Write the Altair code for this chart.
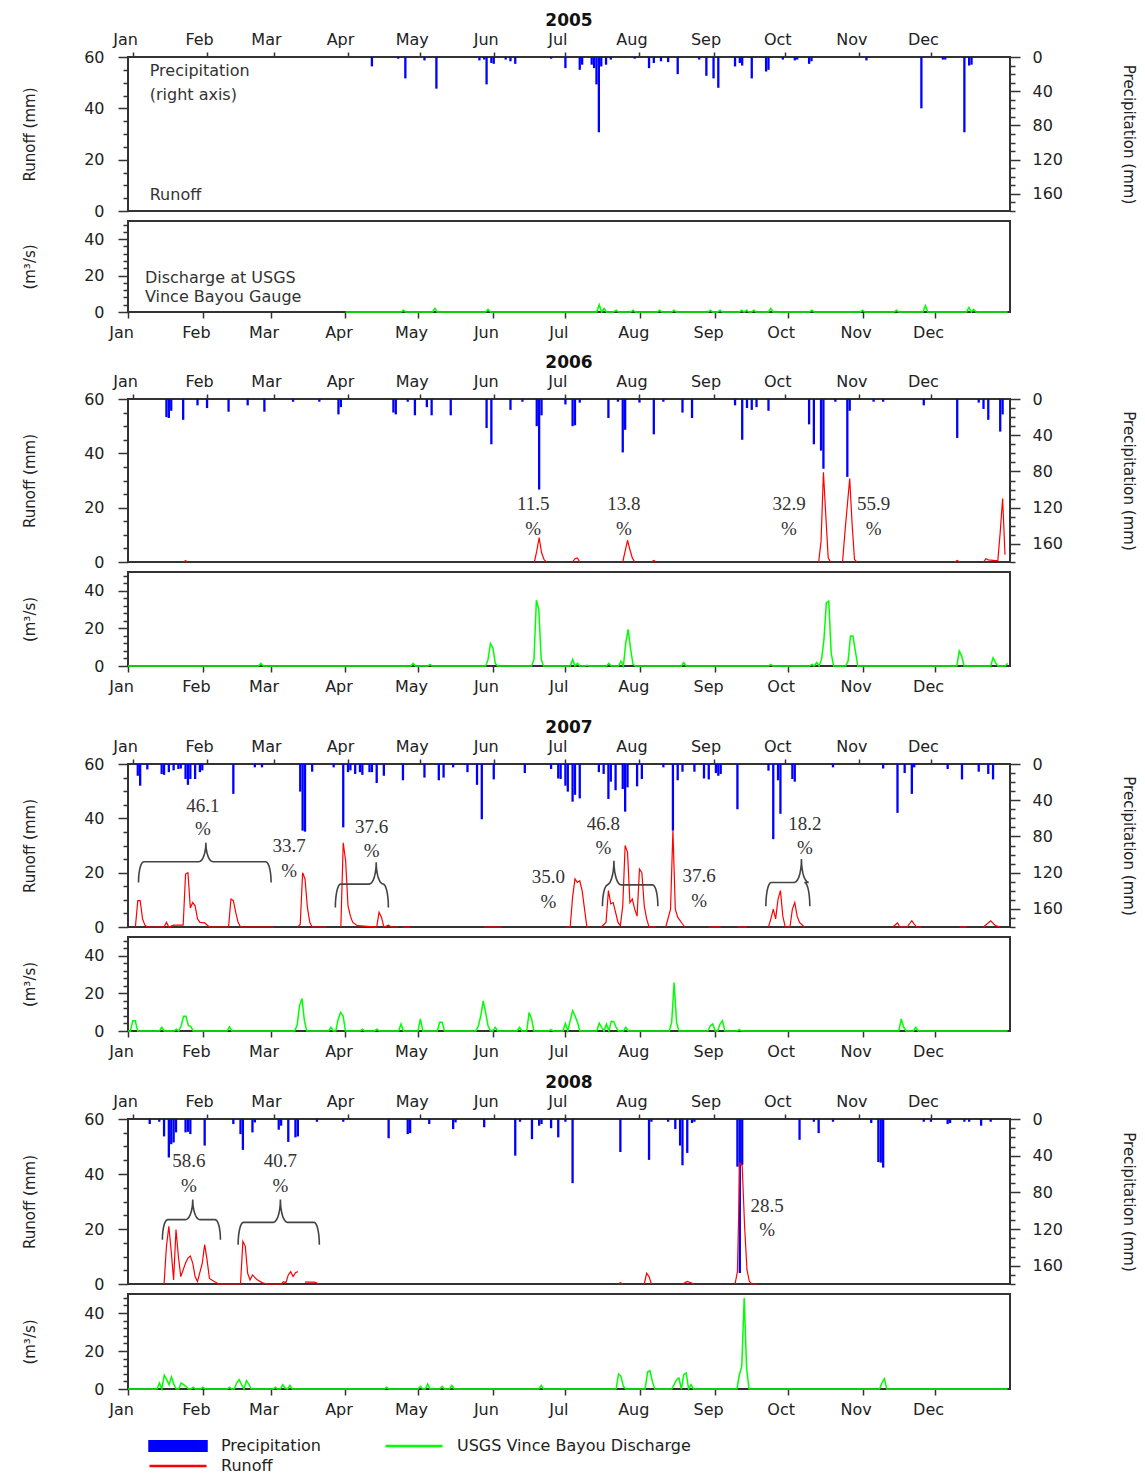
import json
import numpy as np
import pandas as pd
import altair as alt

MONTHS = ["Jan", "Feb", "Mar", "Apr", "May", "Jun", "Jul", "Aug", "Sep", "Oct", "Nov", "Dec"]
MONTH_START = [0, 31, 59, 90, 120, 151, 181, 212, 243, 273, 304, 334]
YEARS = [2005, 2006, 2007, 2008]

# daily precipitation (day of year, mm)
PRECIP_2005 = [(100, 11), (111, 2), (114, 25), (122, 4), (127, 37), (145, 4), (147, 3), (148, 32), (150, 7),
               (151, 8), (156, 3), (158, 5), (160, 8), (175, 2), (181, 13), (187, 15), (188, 9), (192, 9),
               (193, 13), (194, 32), (195, 88), (196, 11), (198, 9), (200, 3), (210, 2), (216, 13), (218, 7),
               (221, 5), (224, 6), (228, 20), (237, 3), (240, 22), (243, 25), (245, 36), (252, 11), (254, 7),
               (255, 10), (259, 25), (265, 17), (266, 15), (272, 3), (277, 4), (278, 3), (283, 8), (284, 5),
               (307, 4), (330, 60), (339, 3), (340, 3), (348, 88), (350, 10), (351, 9)]
PRECIP_2006 = [(14, 20), (15, 21), (16, 13), (21, 23), (27, 7), (31, 10), (40, 14), (48, 7), (55, 14), (67, 3),
               (78, 3), (86, 17), (87, 9), (109, 15), (110, 17), (115, 3), (118, 18), (123, 9), (125, 18),
               (133, 18), (148, 32), (150, 50), (158, 12), (163, 3), (169, 30), (170, 100), (171, 18), (181, 6),
               (184, 30), (185, 29), (187, 4), (199, 21), (203, 3), (205, 59), (206, 34), (212, 4), (218, 39),
               (222, 3), (230, 15), (234, 21), (252, 7), (255, 45), (257, 10), (259, 12), (261, 9), (266, 13),
               (283, 28), (285, 50), (288, 57), (289, 77), (294, 3), (299, 86), (300, 13), (310, 3), (314, 3),
               (331, 7), (345, 43), (354, 4), (356, 11), (358, 23), (363, 36), (364, 17)]
PRECIP_2007 = [(2, 13), (3, 24), (6, 6), (12, 11), (13, 12), (15, 9), (17, 7), (19, 5.5), (20, 5), (22, 16.6),
               (23, 23), (24, 16.6), (26, 16.6), (28, 9), (29, 7), (42, 33), (51, 3.7), (54, 3.7), (70, 30.5),
               (71, 73.6), (72, 74.7), (75, 8.5), (84, 3.7), (88, 70), (90, 9), (91, 7), (93, 11), (95, 9),
               (96, 12), (99, 9), (100, 9), (102, 21), (105, 13), (113, 18), (122, 15), (128, 18), (130, 15),
               (134, 3.7), (140, 9), (144, 23), (146, 61), (151, 17), (164, 10), (175, 5.5), (178, 16),
               (179, 16.6), (181, 24), (182, 30.5), (184, 41.6), (185, 34), (187, 38), (195, 9), (197, 11),
               (199, 38.6), (200, 19.5), (202, 29), (205, 27.6), (206, 52.6), (207, 25.8), (211, 24.7),
               (213, 16.6), (222, 3.7), (226, 73.6), (228, 18), (230, 8.5), (235, 8.5), (239, 16), (241, 17),
               (244, 10), (245, 13), (246, 11), (253, 50), (266, 7.4), (268, 83), (270, 18), (271, 55),
               (276, 16.6), (277, 19.5), (293, 3.7), (314, 5), (320, 54), (323, 10), (326, 33), (327, 3.7),
               (341, 5.5), (347, 17), (354, 8.5), (358, 11), (360, 17)]
PRECIP_2008 = [(7, 5.5), (11, 3), (13, 19), (15, 42), (16, 27.5), (17, 25.6), (18, 14.6), (22, 14.6), (23, 14),
               (24, 16.5), (30, 29), (42, 5.5), (45, 16.5), (46, 33.7), (50, 14.6), (51, 3.7), (61, 11.7),
               (62, 7.3), (65, 25), (68, 20), (69, 19), (77, 3), (88, 3), (107, 21), (115, 16.5), (116, 15.4),
               (124, 5.5), (134, 11), (135, 3.7), (147, 9), (160, 40), (162, 3), (167, 22), (170, 7.3),
               (171, 5.5), (175, 10), (178, 20), (181, 3), (184, 70), (204, 36), (216, 44.6), (217, 3),
               (224, 3), (227, 11), (229, 29), (230, 50.5), (232, 37), (234, 4.4), (235, 3), (253, 52),
               (254, 168), (255, 50), (279, 22.7), (285, 3), (287, 15.4), (293, 3), (309, 4.4), (312, 47),
               (313, 47.6), (314, 53), (331, 3), (334, 3), (341, 5.5), (342, 4.4), (348, 3), (350, 3),
               (355, 7.3), (359, 3)]

# runoff (mm), separate drawn segments of (day, mm)
RUNOFF_2005 = []
RUNOFF_2006 = [
    [(21, 0), (22, 0.5), (23, 0)],
    [(168, 0), (169, 4), (170, 9), (171, 3.5), (172, 1), (173, 0)],
    [(184, 0), (185, 1.2), (186, 1.5), (187, 0)],
    [(205, 0), (206, 4), (207, 8), (208, 4.5), (209, 1.5), (210, 0)],
    [(217, 0), (218, 0.6), (219, 0)],
    [(287, 0), (288, 7.5), (289, 33), (290, 17), (291, 1.5), (292, 0)],
    [(297, 0), (298, 11), (300, 30.7), (301, 14), (302, 1), (303, 0)],
    [(344, 0), (345, 0.6), (346, 0)],
    [(356, 0), (357, 1.2), (358, 0.8), (361, 0.5), (362, 0.5), (363, 11), (364, 23.4), (365, 2.7)],
]
RUNOFF_2007 = [
    [(1, 0), (2, 9.7), (3, 9.7), (4, 3), (5, 0.7), (6, 0), (13, 0), (14, 1.7), (15, 0), (17, 0.7), (21, 0.7),
     (22, 19.5), (23, 20), (24, 7), (25, 9), (26, 7.8), (27, 3), (28, 1.7), (30, 1.5), (32, 0), (40, 0),
     (41, 10.3), (42, 9.7), (43, 5.4), (44, 1.7), (45, 0), (59, 0)],
    [(69, 0), (70, 1), (71, 20), (72, 17.7), (73, 7.2), (74, 1.7), (75, 0), (81, 0)],
    [(87, 0), (88, 31), (89, 24.4), (90, 7.8), (91, 4), (92, 1.7), (94, 0.5), (102, 0), (103, 5.4), (104, 3.6),
     (105, 0), (107, 0.7), (108, 0), (111, 0)],
    [(113, 0), (116, 0)],
    [(147, 0), (154, 0)],
    [(181, 0), (183, 0), (184, 11), (185, 17.7), (186, 16.4), (187, 17), (188, 13.4), (189, 6.6), (190, 0),
     (191, 0)],
    [(196, 0), (198, 1.7), (199, 13.4), (200, 8.5), (201, 9), (202, 5.4), (203, 1.7), (204, 0.5), (205, 7.8),
     (206, 30), (207, 27.5), (208, 9), (209, 10.3), (210, 6.6), (211, 4), (212, 21.3), (213, 20), (214, 7.8),
     (215, 3), (216, 0), (219, 0)],
    [(223, 0), (225, 6.6), (226, 35.5), (227, 6.6), (228, 3.6), (230, 1.1), (231, 0)],
    [(241, 0), (246, 0)],
    [(253, 0), (257, 0)],
    [(266, 0), (267, 3), (268, 6.6), (269, 3), (270, 10.3), (271, 13.4), (272, 4), (273, 0), (275, 0),
     (276, 6.6), (277, 9), (278, 4), (279, 1.7), (281, 0)],
    [(318, 0), (320, 1.5), (321, 0), (324, 0), (326, 2.3), (327, 1.1), (328, 0), (330, 0)],
    [(346, 0), (349, 0)],
    [(356, 0), (359, 2.3), (361, 0.5), (363, 0)],
]
RUNOFF_2008 = [
    [(13, 0), (14, 13.7), (15, 21), (16, 11.8), (17, 1.5), (18, 19.8), (19, 10), (20, 2.7), (22, 7.6),
     (23, 9.4), (24, 10.2), (25, 7.6), (26, 2.7), (27, 0.9), (29, 7.6), (30, 14.3), (31, 8.8), (32, 2),
     (34, 0.9), (36, 0), (45, 0), (46, 15.5), (47, 13.7), (48, 3.9), (49, 1.5), (50, 3.3), (52, 1.5),
     (54, 0.5), (56, 0), (62, 0), (63, 0.8), (64, 0.5), (65, 3.3), (66, 4.5), (67, 2.7), (68, 4.1), (69, 4.5)],
    [(72, 0.7), (76, 0.7), (78, 0)],
    [(203, 0), (204, 0.5), (205, 0)],
    [(214, 0), (215, 3.9), (216, 2.7), (217, 0)],
    [(230, 0), (232, 0.9), (235, 0)],
    [(252, 0), (253, 4.5), (254, 44), (255, 43), (256, 21), (257, 5.1), (258, 0.9), (259, 0), (261, 0)],
]

# USGS discharge (m3/s): non-zero days; line lies on zero elsewhere
DISCHARGE_FIRST_DAY = [90, 0, 0, 0]
DISCHARGE_2005 = [(114, 1), (127, 2), (149, 1.5), (195, 4), (197, 2), (202, 1), (209, 1), (220, 1), (226, 1),
                  (241, 1), (245, 1), (254, 1), (256, 1), (259, 1), (266, 2), (283, 1), (304, 1), (318, 1),
                  (330, 3.5), (348, 2.5), (350, 1.5)]
DISCHARGE_2006 = [(55, 1.4), (118, 1.4), (125, 0.9), (149, 3.5), (150, 12), (151, 9.7), (152, 1.4), (168, 3.5),
                  (169, 35), (170, 30), (171, 3.5), (184, 3.5), (186, 1.4), (190, 0.4), (199, 1.4), (204, 2.6),
                  (206, 12.4), (207, 19.5), (208, 9), (209, 0.9), (230, 1.8), (266, 0.9), (283, 0.9),
                  (285, 1.8), (287, 3.5), (288, 14), (289, 33.6), (290, 34.5), (291, 7), (298, 2.6), (299, 16),
                  (300, 16), (301, 8), (344, 8), (345, 5.3), (358, 4.4), (359, 1.8), (364, 1.4)]
DISCHARGE_2007 = [(2, 5.5), (3, 5.5), (14, 1.9), (20, 1), (22, 2.8), (23, 7.8), (24, 7.8), (25, 2.8), (26, 2.5),
                  (42, 2.3), (70, 3.2), (71, 13.5), (72, 17.3), (73, 5.5), (84, 1.9), (87, 6.4), (88, 9.9),
                  (89, 8.1), (97, 1), (103, 1), (113, 3.7), (121, 6.4), (129, 4.6), (130, 4.6), (145, 2.8),
                  (146, 8.1), (147, 16), (148, 9.9), (149, 2.8), (152, 1.9), (162, 1.9), (166, 9.9), (167, 6.4),
                  (175, 0.7), (181, 4), (183, 5.5), (184, 10.8), (185, 8), (186, 4.6), (195, 4.2), (196, 1.9),
                  (198, 3.7), (200, 5.1), (201, 5), (202, 1.9), (206, 1.9), (225, 4.6), (226, 25.8), (227, 4.6),
                  (241, 2.8), (242, 3.7), (245, 3.7), (246, 5.5), (253, 0.7), (320, 6.4), (321, 2), (326, 1.9)]
DISCHARGE_2008 = [(13, 3.2), (15, 7.2), (16, 4.9), (17, 2.3), (18, 6.3), (19, 2.3), (22, 3.2), (23, 2.3),
                  (24, 1.4), (27, 0.9), (31, 0.9), (42, 0.9), (45, 3.2), (46, 4.9), (47, 2.3), (49, 4.4),
                  (50, 2.6), (61, 0.9), (64, 2.3), (65, 0.5), (67, 1.9), (107, 0.9), (121, 1.4), (124, 2.6),
                  (130, 1.4), (134, 1.9), (171, 1.9), (203, 7.9), (204, 6.7), (205, 1.4), (215, 8.9), (216, 9.6),
                  (217, 4), (226, 2.3), (227, 4.9), (228, 5.8), (230, 7.5), (231, 8.4), (233, 2.3), (253, 7.5),
                  (254, 11.9), (255, 47.9), (256, 11), (312, 3.2), (313, 5.4)]

# runoff-ratio labels: (number, day, y of number, y of "%") in runoff units
PCT_2005 = []
PCT_2006 = [("11.5", 167.5, 21.3, 12.1), ("13.8", 205.5, 21.3, 12.1), ("32.9", 274.6, 21.3, 12.1),
            ("55.9", 310.0, 21.3, 12.1)]
PCT_2007 = [("46.1", 29.3, 44.7, 36.1), ("33.7", 65.4, 29.9, 20.5), ("37.6", 99.9, 36.7, 28.1),
            ("35.0", 173.9, 18.3, 9.3), ("46.8", 196.9, 37.9, 29.0), ("37.6", 237.0, 18.6, 9.7),
            ("18.2", 281.2, 37.9, 29.0)]
PCT_2008 = [("58.6", 23.4, 44.8, 35.6), ("40.7", 61.7, 44.8, 35.6), ("28.5", 265.4, 28.5, 19.8)]

# braces: (start day, tip day, end day, y of ends, y of bar, y of tip)
BRACES_2005 = []
BRACES_2006 = []
BRACES_2007 = [(2.3, 30.5, 57.8, 16.4, 24.0, 31.0), (84.7, 101.8, 106.9, 7.2, 15.8, 23.8),
               (196.5, 201.3, 219.7, 7.6, 15.5, 24.4), (264.9, 279.8, 283.3, 7.6, 16.4, 25.0)]
BRACES_2008 = [(12.3, 25.0, 36.6, 16.1, 23.4, 30.7), (44.0, 61.7, 78.0, 14.3, 22.4, 30.7)]

NOTES_RUNOFF_2005 = [("Precipitation", 7.0, 54.7), ("(right axis)", 7.0, 45.3), ("Runoff", 7.0, 6.4)]
NOTES_DISCHARGE_2005 = [("Discharge at USGS", 7.0, 18.5), ("Vince Bayou Gauge", 7.0, 8.4)]

LEGEND_NAMES = ["Precipitation", "Runoff", "USGS Vince Bayou Discharge"]
LEGEND_COLORS = ["#0000ff", "#ff0000", "#00ff00"]
LEGEND_SHAPES = ["M-1,-0.17L1,-0.17L1,0.17L-1,0.17Z", "stroke", "stroke"]

PRECIP = [PRECIP_2005, PRECIP_2006, PRECIP_2007, PRECIP_2008]
RUNOFF = [RUNOFF_2005, RUNOFF_2006, RUNOFF_2007, RUNOFF_2008]
DISCHARGE = [DISCHARGE_2005, DISCHARGE_2006, DISCHARGE_2007, DISCHARGE_2008]
PCT = [PCT_2005, PCT_2006, PCT_2007, PCT_2008]
BRACES = [BRACES_2005, BRACES_2006, BRACES_2007, BRACES_2008]

RUNOFF_H = [154, 163, 163, 165]
DIS_H = [91, 94, 94, 95]
GAP_H = [67, 78, 68]
W = 882

BLUE, RED, GREEN = "#0000ff", "#ff0000", "#00ff00"
INK = "#333333"
SANS = "DejaVu Sans"
SERIF = "Liberation Serif"

XS = alt.Scale(domain=[0, 365], nice=False, zero=False)
month_expr = f"{json.dumps(MONTHS)}[indexof({json.dumps(MONTH_START)}, datum.value)]"

top_axis = alt.Axis(orient="top", values=MONTH_START, labelExpr=month_expr, tickSize=5, labelPadding=5,
                    labelOffset=-8, title=None, labelFlush=False)
bottom_axis = alt.Axis(orient="bottom", values=MONTH_START, labelExpr=month_expr, tickSize=6, labelPadding=6,
                       labelOffset=-7, title=None, labelFlush=False)

runoff_axis = alt.Axis(orient="left", values=list(range(0, 61, 5)),
                       labelExpr="datum.value % 20 === 0 ? datum.label : ''",
                       tickSize={"condition": {"test": "datum.value % 20 === 0", "value": 10}, "value": 5},
                       labelPadding=14, title="Runoff (mm)", titlePadding=46)
precip_axis = alt.Axis(orient="right", values=list(range(0, 181, 10)),
                       labelExpr="datum.value % 40 === 0 && datum.value < 180 ? datum.label : ''",
                       tickSize={"condition": {"test": "datum.value % 40 === 0", "value": 10}, "value": 5},
                       labelPadding=12, title="Precipitation (mm)", titlePadding=58)
dis_axis = alt.Axis(orient="left", values=list(range(0, 50, 4)) + [20, 40],
                    labelExpr="datum.value % 20 === 0 ? datum.label : ''",
                    tickSize={"condition": {"test": "datum.value % 20 === 0", "value": 10}, "value": 5},
                    labelPadding=14, title="(m³/s)", titlePadding=46)


def brace_points(x0, xt, x1, ye, ym, yt, de=2.2, dt=3.0):
    t = np.linspace(0, np.pi / 2, 8)
    pts = []
    pts += [(x0 + de * (1 - np.cos(a)), ye + (ym - ye) * np.sin(a)) for a in t]
    pts += [(xt - dt + dt * np.sin(a), ym + (yt - ym) * (1 - np.cos(a))) for a in t]
    pts += [(xt + dt - dt * np.sin(a), ym + (yt - ym) * (1 - np.cos(a))) for a in t[::-1]]
    pts += [(x1 - de * (1 - np.cos(a)), ye + (ym - ye) * np.sin(a)) for a in t[::-1]]
    return pts


def runoff_panel(i):
    year = YEARS[i]
    xr = alt.X("day:Q", scale=XS, axis=top_axis, title=None)
    yr = alt.Y("v:Q", scale=alt.Scale(domain=[0, 60], nice=False), axis=runoff_axis)

    pdf = pd.DataFrame(PRECIP[i], columns=["day", "mm"])
    bars = alt.Chart(pdf).mark_bar(color=BLUE, size=2.3).encode(
        x=xr,
        y=alt.Y("mm:Q", scale=alt.Scale(domain=[0, 180], reverse=True, nice=False), axis=precip_axis),
    )

    rows = []
    for s, seg in enumerate(RUNOFF[i]):
        for d, v in seg:
            rows.append({"day": d, "v": v, "seg": s})
    rdf = pd.DataFrame(rows, columns=["day", "v", "seg"])
    inner = [alt.Chart(rdf).mark_line(color=RED, strokeWidth=1.2).encode(x=xr, y=yr, detail="seg:N",
                                                                          order="day:Q")]

    if i == 0:
        ndf = pd.DataFrame(NOTES_RUNOFF_2005, columns=["t", "day", "v"])
        inner.append(alt.Chart(ndf).mark_text(align="left", baseline="middle", font=SANS, fontSize=16,
                                              color=INK).encode(x=xr, y=yr, text="t:N"))
    if PCT[i]:
        prow = []
        for t, d, y1, y2 in PCT[i]:
            prow.append({"t": t, "day": d, "v": y1})
            prow.append({"t": "%", "day": d, "v": y2})
        inner.append(alt.Chart(pd.DataFrame(prow)).mark_text(align="center", baseline="middle", font=SERIF,
                                                             fontSize=19, color=INK).encode(
            x=xr, y=yr, text="t:N"))
    if BRACES[i]:
        brow = []
        for b, spec in enumerate(BRACES[i]):
            for k, (x, y) in enumerate(brace_points(*spec)):
                brow.append({"day": x, "v": y, "b": b, "k": k})
        inner.append(alt.Chart(pd.DataFrame(brow)).mark_line(color="#444444", strokeWidth=1.6).encode(
            x=xr, y=yr, detail="b:N", order="k:Q"))

    return alt.layer(bars, alt.layer(*inner)).resolve_scale(y="independent").properties(
        width=W, height=RUNOFF_H[i],
        title=alt.TitleParams(str(year), font=SANS, fontSize=17, fontWeight="bold", color="#111111",
                              anchor="middle", frame="group", offset=1),
    )


def discharge_panel(i):
    xr = alt.X("day:Q", scale=XS, axis=bottom_axis, title=None)
    yr = alt.Y("q:Q", scale=alt.Scale(domain=[0, 50], nice=False), axis=dis_axis)
    ev = dict(DISCHARGE[i])
    days = list(range(DISCHARGE_FIRST_DAY[i], 365))
    ddf = pd.DataFrame({"day": days, "q": [ev.get(d, 0.0) for d in days]})
    layers = [alt.Chart(ddf).mark_line(color=GREEN, strokeWidth=1.5).encode(x=xr, y=yr)]
    if i == 0:
        ndf = pd.DataFrame(NOTES_DISCHARGE_2005, columns=["t", "day", "q"])
        layers.append(alt.Chart(ndf).mark_text(align="left", baseline="middle", font=SANS, fontSize=16,
                                               color=INK).encode(x=xr, y=yr, text="t:N"))
    if i == 3:
        leg = alt.Legend(title=None, orient="none", legendX=20, legendY=50 + DIS_H[i], columns=2,
                         columnPadding=62, rowPadding=4, symbolSize=3249, symbolStrokeWidth=2.5, clipHeight=14,
                         labelFont=SANS, labelFontSize=16, labelColor="#222222", labelOffset=13, padding=0,
                         labelLimit=400, symbolOpacity=1)
        ldf = pd.DataFrame({"s": LEGEND_NAMES, "day": [0, 0, 0], "q": [0, 0, 0]})
        dom = LEGEND_NAMES
        layers.append(alt.Chart(ldf).transform_filter("false").mark_point(filled=True, opacity=1).encode(
            x=xr, y=yr,
            fill=alt.Fill("s:N", sort=dom, scale=alt.Scale(domain=dom, range=LEGEND_COLORS), legend=leg),
            stroke=alt.Stroke("s:N", sort=dom, scale=alt.Scale(domain=dom, range=LEGEND_COLORS), legend=leg),
            shape=alt.Shape("s:N", sort=dom, scale=alt.Scale(domain=dom, range=LEGEND_SHAPES), legend=leg),
        ))
    return alt.layer(*layers).properties(width=W, height=DIS_H[i])


def spacer(h):
    return alt.Chart(pd.DataFrame({"day": [0]})).mark_point(opacity=0).encode(
        x=alt.X("day:Q", scale=XS, axis=None)).properties(width=W, height=h,
                                                          view=alt.ViewBackground(strokeOpacity=0))


parts = []
for i in range(4):
    parts.append(runoff_panel(i))
    parts.append(discharge_panel(i))
    if i < 3:
        parts.append(spacer(GAP_H[i]))

chart = alt.vconcat(*parts, spacing=10, bounds="flush").resolve_scale(
    x="independent", y="independent", fill="independent", stroke="independent", shape="independent"
).properties(
    padding={"left": 13, "top": 3, "right": 0, "bottom": 0}
).configure_view(
    stroke=INK, strokeWidth=2
).configure_axis(
    labelFont=SANS, labelFontSize=16, labelColor="#222222", titleFont=SANS, titleFontSize=15,
    titleFontWeight="normal", titleColor="#222222", tickColor=INK, tickWidth=1.5, domain=False, grid=False
)

chart.save("out.html", embed_options={"renderer": "svg", "actions": False})
